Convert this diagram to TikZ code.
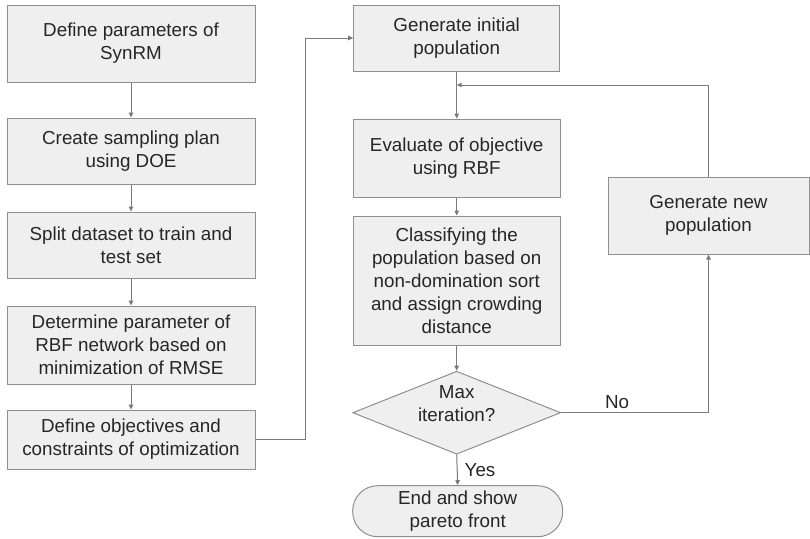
\documentclass[tikz,border=0pt]{standalone}
\usepackage{fontspec}
\setmainfont{Liberation Sans}
\usetikzlibrary{shapes.geometric,arrows.meta}

\definecolor{boxfill}{HTML}{EFEFEF}
\definecolor{boxline}{HTML}{8F8F8F}
\definecolor{flowline}{HTML}{7A7A7A}
\definecolor{textcol}{HTML}{262626}

\tikzset{
  procbox/.style={rectangle,draw=boxline,fill=boxfill,line width=1pt,
    align=center,inner sep=0pt,text=textcol,
    execute at begin node={\rule{0pt}{20.5pt}}},
  decidebox/.style={diamond,draw=boxline,fill=boxfill,line width=1pt,
    inner sep=0pt,minimum width=208pt,minimum height=83pt},
  endbox/.style={procbox,rounded corners=25pt},
  flow/.style={draw=flowline,line width=1pt,-{Triangle[length=5pt,width=4.5pt]}},
  flowtext/.style={text=textcol,inner sep=2pt}
}

\begin{document}
\begin{tikzpicture}[x=1pt,y=-1pt,font=\fontsize{18.8}{23}\selectfont]
  \useasboundingbox (0,0) rectangle (810,538);

  % left column
  \node[procbox,minimum width=248pt,minimum height=77pt] (params) at (131,43.5)
    {Define parameters of\\SynRM};
  \node[procbox,minimum width=248pt,minimum height=66pt] (sampling) at (131,151)
    {Create sampling plan\\using DOE};
  \node[procbox,minimum width=248pt,minimum height=66pt] (split) at (131,245)
    {Split dataset to train and\\test set};
  \node[procbox,minimum width=248pt,minimum height=78pt] (rbfnet) at (131,345)
    {Determine parameter of\\RBF network based on\\minimization of RMSE};
  \node[procbox,minimum width=248pt,minimum height=59pt] (objectives) at (131,439.5)
    {Define objectives and\\constraints of optimization};

  % right column
  \node[procbox,minimum width=206pt,minimum height=66pt] (initpop) at (456.7,38)
    {Generate initial\\population};
  \node[procbox,minimum width=207pt,minimum height=78pt] (evaluate) at (456.7,158)
    {Evaluate of objective\\using RBF};
  \node[procbox,minimum width=207pt,minimum height=129pt] (classify) at (456.7,280.5)
    {Classifying the\\population based on\\non-domination sort\\and assign crowding\\distance};
  \node[decidebox] (maxiter) at (456.7,412.7) {};
  \node[flowtext,align=center] (maxitertext) at (456.7,403.5) {Max\\iteration?};
  \node[endbox,minimum width=210pt,minimum height=51pt] (pareto) at (457.7,511.2)
    {End and show\\pareto front};
  \node[procbox,minimum width=201pt,minimum height=77pt] (newpop) at (708.5,215.5)
    {Generate new\\population};

  \coordinate (loopjoin) at (456.7,85);

  % connectors
  \draw[flow] (params) -- (sampling);
  \draw[flow] (sampling) -- (split);
  \draw[flow] (split) -- (rbfnet);
  \draw[flow] (rbfnet) -- (objectives);
  \draw[flow] (objectives.east) -- ++(50,0) |- (initpop.west);
  \draw[flow] (initpop) -- (evaluate);
  \draw[flow] (evaluate) -- (classify);
  \draw[flow] (classify) -- (maxiter);
  \draw[flow] (maxiter.south) -- (pareto.north)
    node[flowtext,midway,right=5pt] {Yes};
  \draw[flow] (maxiter.east) -| (newpop.south)
    node[flowtext,pos=0.19,above,inner sep=4pt] {No};
  \draw[flow] (newpop.north) |- (loopjoin);
\end{tikzpicture}
\end{document}
